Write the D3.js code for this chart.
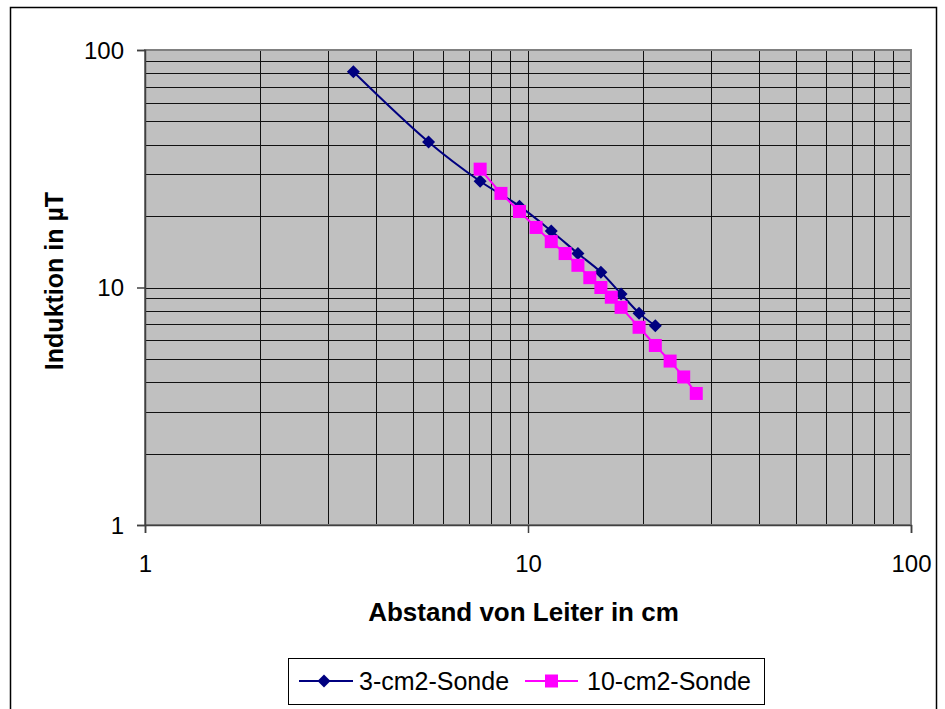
<!DOCTYPE html>
<html><head><meta charset="utf-8">
<script src="https://cdn.jsdelivr.net/npm/d3@7"></script>
<style>body{margin:0;background:#fff;} svg{display:block;}</style>
</head><body>
<svg id="c" width="945" height="709"></svg>
<script>
const seriesNames = ["3-cm2-Sonde", "10-cm2-Sonde"];
const x3 = [3.5, 5.5, 7.5, 9.5, 11.5, 13.5, 15.5, 17.5, 19.5, 21.5];
const y3 = [81, 41, 28, 22, 17.3, 13.9, 11.6, 9.4, 7.8, 6.9];
const x10 = [7.5, 8.5, 9.5, 10.5, 11.5, 12.5, 13.5, 14.5, 15.5, 16.5, 17.5, 19.5, 21.5, 23.5, 25.5, 27.5];
const y10 = [31.5, 24.9, 20.9, 17.9, 15.6, 13.9, 12.4, 11.0, 10.0, 9.1, 8.25, 6.8, 5.7, 4.9, 4.2, 3.58];
const xTicks = [1, 10, 100];
const yTicks = [1, 10, 100];
const xTitle = "Abstand von Leiter in cm";
const yTitle = "Induktion in µT";

const svg = d3.select("#c");
const L = 145, R = 911, T = 50, B = 525;
const x = d3.scaleLog().domain([1, 100]).range([L, R]);
const y = d3.scaleLog().domain([1, 100]).range([B, T]);
const font = "Liberation Sans, Arial, sans-serif";

// outer border
svg.append("rect").attr("x", 10.5).attr("y", 7.5).attr("width", 926).attr("height", 710)
  .attr("fill", "#fff").attr("stroke", "#000").attr("stroke-width", 1.5);

// plot background
svg.append("rect").attr("x", L).attr("y", T).attr("width", R - L).attr("height", B - T).attr("fill", "#C0C0C0");

// grid values
const gridVals = [];
for (let d = 1; d < 100; d *= 10) for (let k = 1; k <= 9; k++) gridVals.push(d * k);
const g = svg.append("g");
g.selectAll("line.gx").data(gridVals.filter(v => v > 1)).join("line")
  .attr("x1", d => Math.round(x(d)) + 0.5).attr("x2", d => Math.round(x(d)) + 0.5)
  .attr("y1", T).attr("y2", B).attr("stroke", "#111").attr("stroke-width", 1);
g.selectAll("line.gy").data(gridVals.filter(v => v > 1)).join("line")
  .attr("y1", d => Math.round(y(d)) + 0.5).attr("y2", d => Math.round(y(d)) + 0.5)
  .attr("x1", L).attr("x2", R).attr("stroke", "#111").attr("stroke-width", 1);

// plot border
svg.append("rect").attr("x", L).attr("y", T).attr("width", R - L).attr("height", B - T)
  .attr("fill", "none").attr("stroke", "#808080").attr("stroke-width", 2);

// axes
const xAxis = d3.axisBottom(x).tickValues(xTicks).tickFormat(d3.format("d")).tickSize(8).tickPadding(22);
const yAxis = d3.axisLeft(y).tickValues(yTicks).tickFormat(d3.format("d")).tickSize(8).tickPadding(13);
const gx = svg.append("g").attr("transform", `translate(0,${B})`).call(xAxis);
const gy = svg.append("g").attr("transform", `translate(${L},0)`).call(yAxis);
[gx, gy].forEach(a => {
  a.attr("font-size", 24).attr("font-family", font);
  a.select(".domain").attr("stroke", "#404040").attr("stroke-width", 1.5);
  a.selectAll(".tick line").attr("stroke", "#404040").attr("stroke-width", 1.5);
  a.selectAll("text").attr("font-family", font).attr("font-size", 24).attr("fill", "#000");
});
gy.selectAll("text").attr("dy", "0.35em");
gx.selectAll("text").attr("dy", "0.71em");

// titles
svg.append("text").attr("x", 523.5).attr("y", 621).attr("text-anchor", "middle")
  .attr("font-family", font).attr("font-size", 26).attr("font-weight", "bold").text(xTitle);
svg.append("text").attr("transform", `translate(63,281) rotate(-90)`).attr("text-anchor", "middle")
  .attr("font-family", font).attr("font-size", 25).attr("font-weight", "bold").text(yTitle);

// series
const d3s = x3.map((v, i) => [v, y3[i]]);
const d10 = x10.map((v, i) => [v, y10[i]]);
svg.append("path").datum(d3s)
  .attr("d", d3.line().x(d => x(d[0])).y(d => y(d[1])).curve(d3.curveCatmullRom))
  .attr("fill", "none").attr("stroke", "#000080").attr("stroke-width", 2);
svg.append("path").datum(d10)
  .attr("d", d3.line().x(d => x(d[0])).y(d => y(d[1])))
  .attr("fill", "none").attr("stroke", "#FF00FF").attr("stroke-width", 2);

const diamond = (cx, cy, s) => `M${cx},${cy - s}L${cx + s},${cy}L${cx},${cy + s}L${cx - s},${cy}Z`;
svg.append("g").selectAll("path").data(d3s).join("path")
  .attr("d", d => diamond(x(d[0]), y(d[1]), 6.5)).attr("fill", "#000080");
svg.append("g").selectAll("rect").data(d10).join("rect")
  .attr("x", d => x(d[0]) - 6.5).attr("y", d => y(d[1]) - 6.5).attr("width", 13).attr("height", 13)
  .attr("fill", "#FF00FF");

// legend
const lg = svg.append("g");
lg.append("rect").attr("x", 288.5).attr("y", 658.5).attr("width", 476).attr("height", 46)
  .attr("fill", "#fff").attr("stroke", "#000").attr("stroke-width", 1);
const ly = 681;
lg.append("line").attr("x1", 299).attr("x2", 353).attr("y1", ly).attr("y2", ly).attr("stroke", "#000080").attr("stroke-width", 2);
lg.append("path").attr("d", diamond(324, ly, 6.5)).attr("fill", "#000080");
lg.append("text").attr("x", 359).attr("y", ly).attr("dy", "0.35em").attr("font-family", font).attr("font-size", 25).text(seriesNames[0]);
lg.append("line").attr("x1", 525).attr("x2", 578).attr("y1", ly).attr("y2", ly).attr("stroke", "#FF00FF").attr("stroke-width", 2);
lg.append("rect").attr("x", 551.5 - 6.5).attr("y", ly - 6.5).attr("width", 13).attr("height", 13).attr("fill", "#FF00FF");
lg.append("text").attr("x", 587).attr("y", ly).attr("dy", "0.35em").attr("font-family", font).attr("font-size", 25).text(seriesNames[1]);
</script>
</body></html>
